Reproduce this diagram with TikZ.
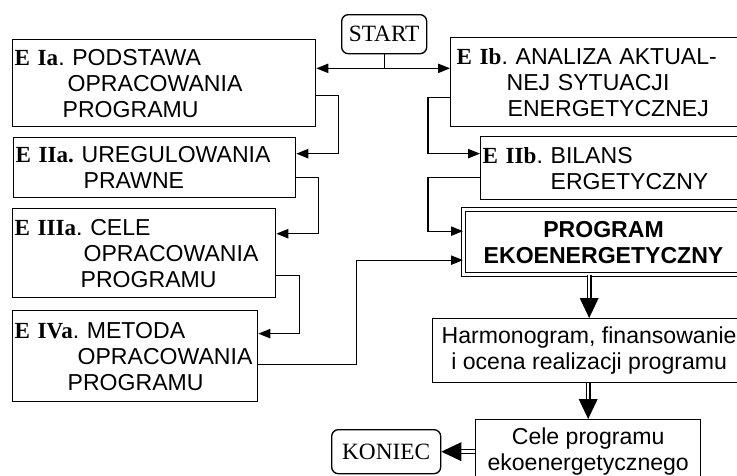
\documentclass[tikz,border=0pt]{standalone}
\usepackage{fontspec}
\setmainfont{Liberation Serif}
\setsansfont{Liberation Sans}
\usepackage{tikz}
\usetikzlibrary{arrows.meta}
\frenchspacing

\newcommand{\boxfont}{\fontsize{17.3}{19.5}\selectfont\sffamily}
\newcommand{\termfont}{\fontsize{17.5}{20}\selectfont\rmfamily}
\newcommand{\etap}[1]{{\rmfamily\bfseries #1}}

\begin{document}
\begin{tikzpicture}[x=0.75pt,y=-0.75pt, % schemat programu
	etapbox/.style 2 args={draw,line width=1pt,anchor=north west,align=left,
		inner xsep=1.5pt,inner ysep=0pt,font=\boxfont,
		minimum width=#1,text width={#1-3pt},minimum height=#2},
	cbox/.style 2 args={draw,line width=1pt,anchor=north west,align=center,
		inner sep=0pt,font=\boxfont,minimum width=#1,minimum height=#2},
	term/.style 2 args={draw,line width=1pt,rounded corners=5pt,anchor=north west,
		inner sep=0pt,font=\termfont,minimum width=#1,minimum height=#2},
	link/.style={line width=0.9pt,-{Triangle[length=9pt,width=7pt]}},
	dbl/.style={line width=1.1pt,double,double distance=1.8pt},
	bigtip/.style={line width=1pt,-{Triangle[length=15pt,width=14pt]}}]
	
	\useasboundingbox (0,0) rectangle (737,475);
	\clip (0,0) rectangle (737,475);
	
	\node[term={63.75pt}{29.25pt}] (start) at (341,14) {START};
	
	% lewa kolumna
	\node[etapbox={227.25pt}{65.25pt}] (eia) at (12,39)
	{\etap{E Ia}. PODSTAWA\\\hspace*{39.75pt}OPRACOWANIA\\\hspace*{36pt}PROGRAMU};
	\node[etapbox={211.5pt}{45pt}] (eiia) at (13,137)
	{\etap{E IIa.} UREGULOWANIA\\\hspace*{51pt}PRAWNE};
	\node[etapbox={197.25pt}{66.75pt}] (eiiia) at (12,208)
	{\etap{E IIIa}. CELE\\\hspace*{51.75pt}OPRACOWANIA\\\hspace*{49.5pt}PROGRAMU};
	\node[etapbox={183.75pt}{68.25pt}] (eiva) at (12,310)
	{\etap{E IVa}. METODA\\\hspace*{47.25pt}OPRACOWANIA\\\hspace*{39.75pt}PROGRAMU};
	
	% prawa kolumna
	\node[etapbox={221.25pt}{66.75pt}] (eib) at (450,37)
	{\hspace*{3pt}\etap{E Ib}. ANALIZA AKTUAL-\\\hspace*{40.5pt}NEJ SYTUACJI\\\hspace*{41.25pt}ENERGETYCZNEJ};
	\node[etapbox={198.75pt}{47.25pt}] (eiib) at (480,136)
	{\etap{E IIb}. BILANS\\\hspace*{51pt}ERGETYCZNY};
	\node[cbox={210pt}{48.9pt},double,double distance=2pt,line width=0.8pt,
	font=\boxfont\bfseries] (prog) at (463,209) {PROGRAM\\EKOENERGETYCZNY};
	\node[cbox={234.75pt}{48pt}] (harm) at (432,318)
	{Harmonogram, finansowanie\\i ocena realizacji programu};
	\node[cbox={168.75pt}{48pt}] (cele) at (475,419) {Cele programu\\ekoenergetycznego};
	\node[term={81.75pt}{33pt}] (koniec) at (331,429) {KONIEC};
	
	\draw[line width=0.9pt] (start.south) -- ++(0,14) coordinate (sj);
	\draw[link] (sj) -- (eia.east |- sj);
	\draw[link] (sj) -- (eib.west |- sj);
	
	\draw[link] ([yshift=-9.4pt]eia.east) -- ++(22,0) |- ([yshift=10.5pt]eiia.east);
	\draw[link] ([yshift=-7.5pt]eiia.east) -- ++(22,0) |- ([yshift=14.6pt]eiiia.east);
	\draw[link] ([yshift=-16.9pt]eiiia.east) -- ++(23,0) |- ([yshift=16.9pt]eiva.east);
	\draw[link] ([yshift=-6.4pt]eiva.east) -- ++(98,0) |- ([yshift=-13.5pt]prog.west);
	
	\draw[link] ([yshift=-11.6pt]eib.west) -- ++(-22,0) |- ([yshift=10.9pt]eiib.west);
	\draw[link] ([yshift=-7.1pt]eiib.west) -- ++(-52,0) |- ([yshift=8.25pt]prog.west);
	
	% podwojne strzalki
	\draw[dbl] (harm.north |- prog.south) -- ([yshift=11pt]harm.north);
	\draw[bigtip] ([yshift=11pt]harm.north) -- (harm.north);
	\draw[dbl] (cele.north |- harm.south) -- ([yshift=11pt]cele.north);
	\draw[bigtip] ([yshift=11pt]cele.north) -- (cele.north);
	\draw[dbl] (cele.west) -- ([xshift=11pt]koniec.east);
	\draw[bigtip] ([xshift=11pt]koniec.east) -- (koniec.east);
\end{tikzpicture}
\end{document}
